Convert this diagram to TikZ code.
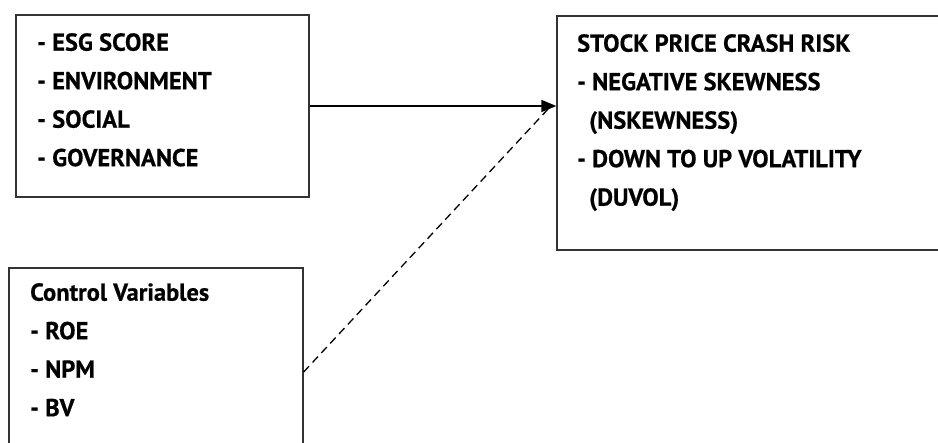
\documentclass[tikz,border=0pt]{standalone}
\usepackage{fontspec}
\setmainfont{PT Sans}[BoldFeatures={FakeBold=0.5}]
\usetikzlibrary{arrows.meta}
\begin{document}
\begin{tikzpicture}[x=1pt,y=-1pt,
  box/.style={draw=black!80,line width=1.3pt,minimum width=#1,inner sep=0pt},
  txt/.style={anchor=north west,align=left,inner sep=0pt,font=\fontsize{24.5}{38.5}\selectfont\bfseries},
  link/.style={line width=1.6pt,-{Triangle[length=15pt,width=12pt]}},
  dlink/.style={line width=1.3pt,dash pattern=on 8pt off 5pt}]
\useasboundingbox (0,0) rectangle (938,443);
\fill[white] (0,0) rectangle (938,443);
\node[box=463pt,minimum height=234pt] (b2) at (788.5,133) {};
\node[box=293pt,minimum height=182pt] (b1) at (162.5,106) {};
\node[box=294pt,minimum height=208pt] (b3) at (156,372) {};
\node[txt] (t1) at (37,33) {- ESG SCORE\\- ENVIRONMENT\\- SOCIAL\\- GOVERNANCE};
\node[txt] (t2) at (577,34) {STOCK PRICE CRASH RISK\\- NEGATIVE SKEWNESS\\\hspace*{12pt}(NSKEWNESS)\\- DOWN TO UP VOLATILITY\\\hspace*{12pt}(DUVOL)};
\node[txt] (t3) at (30,283) {Control Variables\\- ROE\\- NPM\\- BV};
\coordinate (dend) at (549,108);
\draw[link] (b1.east) -- (b1.east -| b2.west);
\draw[dlink] (b3.east) -- (dend);
\end{tikzpicture}
\end{document}
